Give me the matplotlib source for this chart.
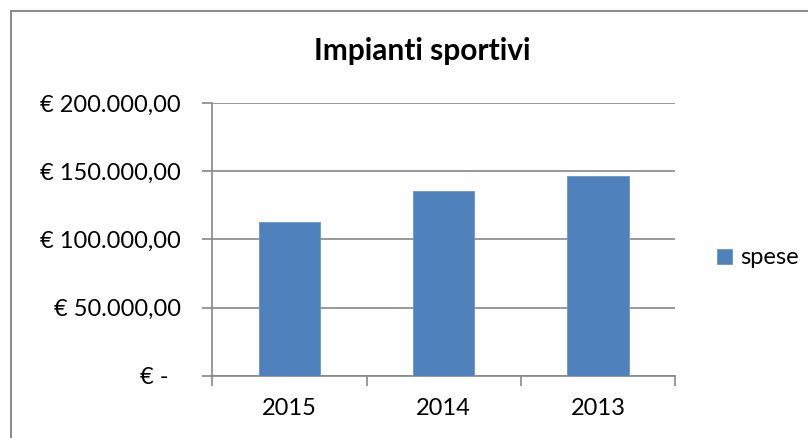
import matplotlib
matplotlib.use("Agg")
import matplotlib.pyplot as plt
from matplotlib.patches import Rectangle

# Dati
anni = ["2015", "2014", "2013"]
spese = [112600, 135600, 146600]
tick_valori = [0, 50000, 100000, 150000, 200000]
tick_etichette = ["€ -  ", "€ 50.000,00", "€ 100.000,00", "€ 150.000,00", "€ 200.000,00"]

plt.rcParams["font.family"] = ["Lato", "DejaVu Sans"]

W, H = 808, 438
fig = plt.figure(figsize=(W / 100, H / 100), dpi=100)
fig.patch.set_facecolor("white")

# Bordo dell'area del grafico
fig.add_artist(Rectangle((11 / W, -0.1), 1.2, (H - 11) / H + 0.1,
                         transform=fig.transFigure, fill=False,
                         edgecolor="#8c8c8c", linewidth=1.5))

ax = fig.add_axes([212.3 / W, (H - 375.7) / H, (675 - 212.3) / W, (375.7 - 103.3) / H])

grid_col = "#888888"
fs = 17
x = range(len(anni))
bars = ax.bar(x, spese, width=0.4, color="#4F81BD", edgecolor="#6a95c9",
              linewidth=0.6, label="spese", zorder=3)

ax.set_xlim(-0.5, len(anni) - 0.5)
ax.set_ylim(0, 200000)
ax.set_yticks(tick_valori)
ax.set_yticklabels(tick_etichette)
ax.set_xticks(x)
ax.set_xticklabels(anni)
ax.set_xticks([-0.5, 0.5, 1.5, 2.5], minor=True)

ax.yaxis.grid(True, color=grid_col, linewidth=1.2, zorder=0)
ax.set_axisbelow(True)

for s in ["top", "right"]:
    ax.spines[s].set_visible(False)
for s in ["left", "bottom"]:
    ax.spines[s].set_color(grid_col)
    ax.spines[s].set_linewidth(1.2)

ax.tick_params(axis="y", which="major", length=7.5, width=1.2, color=grid_col,
               labelsize=fs, pad=15, labelcolor="black")
ax.tick_params(axis="x", which="major", length=0, labelsize=fs, pad=16,
               labelcolor="black")
ax.tick_params(axis="x", which="minor", length=7, width=1.2, color=grid_col)

fig.text(422 / W, 1 - 51 / H, "Impianti sportivi", ha="center", va="center",
         fontsize=21.5, fontweight="bold")

leg = fig.legend(handles=[bars], labels=["spese"], loc="center left",
                 bbox_to_anchor=(717 / W, 1 - 258 / H), frameon=False,
                 fontsize=fs, handlelength=0.62, handleheight=0.62,
                 handletextpad=0.35, borderaxespad=0, borderpad=0)

fig.savefig("out.png", dpi=100)
